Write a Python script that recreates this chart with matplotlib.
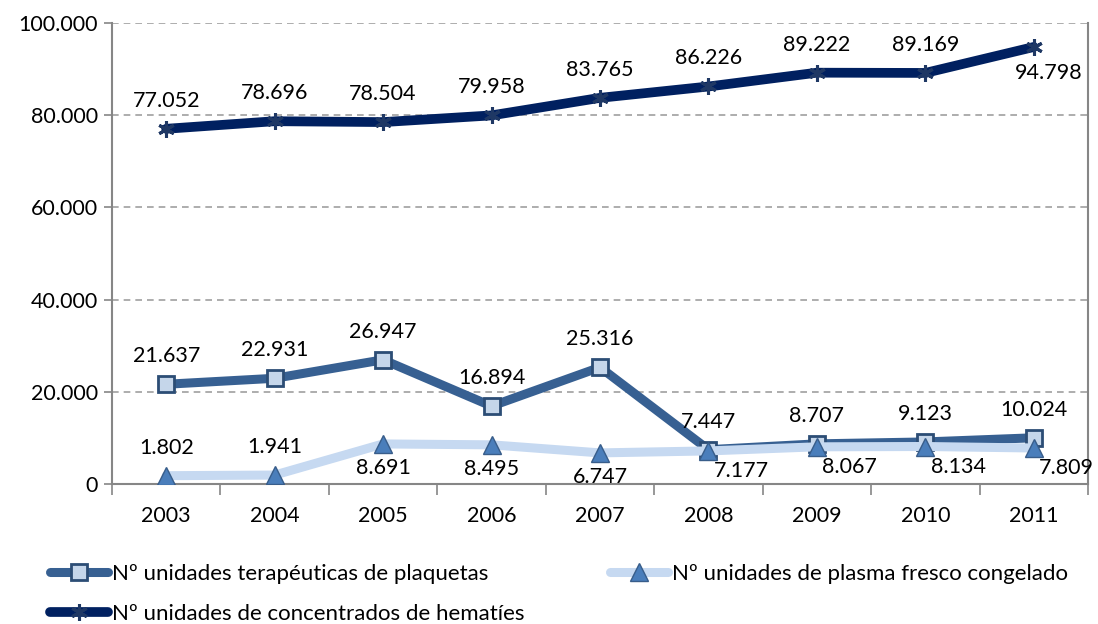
import matplotlib
matplotlib.use("Agg")
import matplotlib.pyplot as plt
from matplotlib.lines import Line2D
from matplotlib.ticker import FuncFormatter, FixedLocator

plt.rcParams['font.family'] = ['Lato', 'DejaVu Sans']

years = ["2003", "2004", "2005", "2006", "2007", "2008", "2009", "2010", "2011"]
plaquetas = [21637, 22931, 26947, 16894, 25316, 7447, 8707, 9123, 10024]
plasma = [1802, 1941, 8691, 8495, 6747, 7177, 8067, 8134, 7809]
hematies = [77052, 78696, 78504, 79958, 83765, 86226, 89222, 89169, 94798]

lab_plaq = "Nº unidades terapéuticas de plaquetas"
lab_plas = "Nº unidades de plasma fresco congelado"
lab_hem = "Nº unidades de concentrados de hematíes"

c_plaq = "#376092"
c_plas = "#c6d9f1"
c_hem = "#002060"

fig = plt.figure(figsize=(10.98, 6.24), dpi=100)
ax = fig.add_axes([112/1098, 1-484/624, (1088-112)/1098, (484-23)/624])

x = list(range(len(years)))

def fmt(v):
    return f"{v:,.0f}".replace(",", ".")

sty_plaq = dict(color=c_plaq, lw=6.5, solid_capstyle='round',
                marker='s', ms=11, mfc='#c5d6ea', mec='#2c4d75', mew=2)
sty_plas = dict(color=c_plas, lw=6.5, solid_capstyle='round',
                marker='^', ms=13, mfc='#4a7ebb', mec='#385d8a', mew=1)
sty_hem = dict(color=c_hem, lw=7, solid_capstyle='round',
               marker=(6, 2, 0), ms=12, mec='#1f3864', mfc='#1f3864', mew=2.2)

ax.plot(x, plaquetas, zorder=2, **sty_plaq)
ax.plot(x, plasma, zorder=3, **sty_plas)
ax.plot(x, hematies, zorder=4, **sty_hem)

fs = 15.5
for i, v in enumerate(hematies):
    off = (0, 28) if i < len(hematies) - 1 else (15, -26)
    ax.annotate(fmt(v), (i, v), xytext=off, textcoords='offset pixels',
                ha='center', va='center', fontsize=fs, zorder=10)
for i, v in enumerate(plaquetas):
    ax.annotate(fmt(v), (i, v), xytext=(0, 28), textcoords='offset pixels',
                ha='center', va='center', fontsize=fs, zorder=10)
for i, v in enumerate(plasma):
    if i < 2:
        off = (0, 28)
    elif i < 5:
        off = (0, -24)
    else:
        off = (33, -20)
    ax.annotate(fmt(v), (i, v), xytext=off, textcoords='offset pixels',
                ha='center', va='center', fontsize=fs, zorder=10,
                annotation_clip=False)

ax.set_xlim(-0.5, len(years) - 0.5)
ax.set_ylim(0, 100000)
ax.set_yticks([0, 20000, 40000, 60000, 80000, 100000])
ax.yaxis.set_major_formatter(FuncFormatter(lambda v, p: fmt(v)))
ax.set_xticks(x)
ax.set_xticklabels(years)
ax.xaxis.set_minor_locator(FixedLocator([i + 0.5 for i in range(-1, len(years))]))
ax.tick_params(axis='x', which='major', length=0, labelsize=fs, pad=16)
ax.tick_params(axis='x', which='minor', length=8, color='#868686', width=1.2)
ax.tick_params(axis='y', length=6, color='#868686', width=1.2, labelsize=fs, pad=4)

ax.grid(axis='y', color='#a0a0a0', ls=(0, (4, 3)), lw=1.2)
ax.set_axisbelow(True)
for s in ['left', 'bottom', 'right']:
    ax.spines[s].set_color('#868686')
    ax.spines[s].set_linewidth(1.5)
ax.spines['top'].set_visible(False)

h_plaq = Line2D([], [], **sty_plaq)
h_plas = Line2D([], [], **sty_plas)
h_hem = Line2D([], [], **sty_hem)

leg_fs = 16
leg1 = fig.legend([h_plaq, h_hem], [lab_plaq, lab_hem], loc='upper left',
                  bbox_to_anchor=(41/1098, 1-555/624), frameon=False, fontsize=leg_fs,
                  handlelength=2.6, handletextpad=0.2, labelspacing=0.9, borderaxespad=0)
leg2 = fig.legend([h_plas], [lab_plas], loc='upper left',
                  bbox_to_anchor=(601/1098, 1-555/624), frameon=False, fontsize=leg_fs,
                  handlelength=2.6, handletextpad=0.2, borderaxespad=0)

fig.savefig("out.png", dpi=100)
